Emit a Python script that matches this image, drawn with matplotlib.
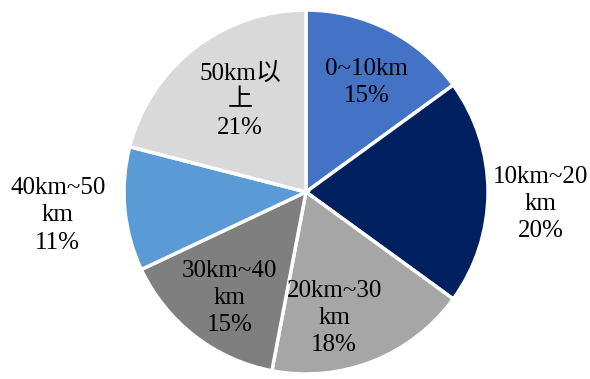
import numpy as np
import matplotlib.pyplot as plt

# 出行距离分布
labels = ['0~10km', '10km~20\nkm', '20km~30\nkm', '30km~40\nkm', '40km~50\nkm', '50km以\n上']
shares = [15, 20, 18, 15, 11, 21]
colors = ['#4472C4', '#002060', '#A6A6A6', '#7F7F7F', '#5B9BD5', '#D9D9D9']

# 标签放置：径向距离与角度微调
label_r = [0.69, 1.29, 0.71, 0.72, 1.37, 0.62]
label_dang = [-2, -3, -9, 2, 0, -2]

fig = plt.figure(figsize=(5.9, 3.79), dpi=100)
ax = fig.add_axes([0, 0, 1, 1])

wedges, _ = ax.pie(shares, colors=colors, startangle=90, counterclock=False,
                   radius=1.0, wedgeprops=dict(edgecolor='white', linewidth=2.5))

R = 182.0
ax.set_xlim(-306 / R, (590 - 306) / R)
ax.set_ylim(-(379 - 192) / R, 192 / R)
ax.set_aspect('equal')
ax.axis('off')

for w, lab, s, r, da in zip(wedges, labels, shares, label_r, label_dang):
    ang = np.deg2rad((w.theta1 + w.theta2) / 2 + da)
    ax.text(r * np.cos(ang), r * np.sin(ang), f'{lab}\n{s}%',
            ha='center', va='center', fontsize=18, linespacing=1.3,
            family=['Liberation Serif', 'Noto Sans CJK SC'], color='black')

fig.savefig('out.png', dpi=100)
